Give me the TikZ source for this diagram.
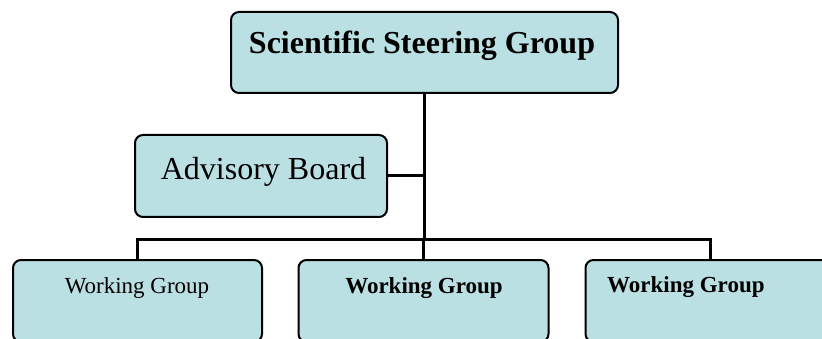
\documentclass[tikz,border=0pt]{standalone}
\usepackage{fontspec}
\setmainfont{Liberation Serif}
\definecolor{boxfill}{RGB}{187,224,227}
\tikzset{
  orgbox/.style={draw=black, line width=2pt, fill=boxfill, rounded corners=8pt, inner sep=0pt},
  link/.style={draw=black, line width=3pt},
  lbl/.style={anchor=base, inner sep=0pt}
}
\begin{document}
\begin{tikzpicture}[x=1pt,y=-1pt]
\useasboundingbox (0,0) rectangle (822,339);
\clip (0,0) rectangle (822,339);
\node[orgbox, minimum width=387pt, minimum height=81pt] (top) at (424.5,52.5) {};
\node[orgbox, minimum width=252pt, minimum height=82pt] (adv) at (261,176) {};
\node[orgbox, minimum width=249pt, minimum height=82pt] (w1) at (137.5,301) {};
\node[orgbox, minimum width=250pt, minimum height=82pt] (w2) at (423.5,301) {};
\node[orgbox, minimum width=250pt, minimum height=82pt] (w3) at (710.5,301) {};
\coordinate (j) at (424,240);
\draw[link] (top.south) -- (top.south |- j);
\draw[link] (adv.east) -- (adv.east -| top.south);
\draw[link] (w1.north) |- (w3.north |- j) -- (w3.north);
\draw[link] (w2.north) -- (w2.north |- j);
\node[lbl, font=\fontsize{32}{36}\selectfont\bfseries] (ttop) at (422,54) {Scientific Steering Group};
\node[lbl, font=\fontsize{32}{36}\selectfont] (tadv) at (263.5,180) {Advisory Board};
\node[lbl, font=\fontsize{23}{27}\selectfont] (tw1) at (137,293) {Working Group};
\node[lbl, font=\fontsize{23}{27}\selectfont\bfseries] (tw2) at (424,293) {Working Group};
\node[lbl, anchor=base west, font=\fontsize{23}{27}\selectfont\bfseries] (tw3) at (607,292) {Working Group};
\end{tikzpicture}
\end{document}
